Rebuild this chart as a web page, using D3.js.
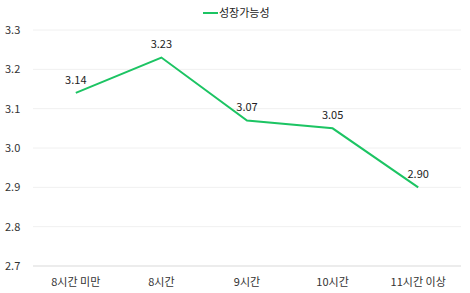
<!DOCTYPE html>
<html>
<head>
<meta charset="utf-8">
<style>
  body { margin: 0; background: #fff; }
  text { font-family: "Noto Sans CJK KR", "Noto Sans", sans-serif; }
</style>
</head>
<body>
<script src="https://d3js.org/d3.v7.min.js"></script>
<script>
var categories = ["8시간 미만", "8시간", "9시간", "10시간", "11시간 이상"];
var values = [3.14, 3.23, 3.07, 3.05, 2.90];
var yTicks = [2.7, 2.8, 2.9, 3.0, 3.1, 3.2, 3.3];
var seriesName = "성장가능성";

var W = 470, H = 293;
var margin = {top: 30, right: 9, bottom: 27, left: 33};
var width = W - margin.left - margin.right,
    height = H - margin.top - margin.bottom;
var color = "#1cc463";

var svg = d3.select("body").append("svg")
    .attr("width", W).attr("height", H);

var chart = svg.append("g")
    .attr("transform", "translate(" + margin.left + "," + margin.top + ")");

var x = d3.scaleBand().domain(categories).range([0, width]);
var y = d3.scaleLinear().domain([2.7, 3.3]).range([height, 0]);

// grid lines
chart.selectAll(".grid")
    .data(yTicks)
    .enter().append("line")
    .attr("x1", 0).attr("x2", width)
    .attr("y1", function(d){ return y(d); })
    .attr("y2", function(d){ return y(d); })
    .attr("stroke", function(d){ return d === 2.7 ? "#d9d9d9" : "#f0f0f0"; })
    .attr("stroke-width", 1);

// y axis labels
chart.selectAll(".ylab")
    .data(yTicks)
    .enter().append("text")
    .attr("x", -28)
    .attr("y", function(d){ return y(d); })
    .attr("dy", "0.35em")
    .attr("font-size", 11)
    .attr("fill", "#333")
    .text(function(d){ return d3.format(".1f")(d); });

// x axis labels
chart.selectAll(".xlab")
    .data(categories)
    .enter().append("text")
    .attr("x", function(d){ return x(d) + x.bandwidth() / 2; })
    .attr("y", height + 16)
    .attr("dy", "0.35em")
    .attr("text-anchor", "middle")
    .attr("font-size", 11)
    .attr("fill", "#333")
    .text(function(d){ return d; });

var pts = categories.map(function(c, i){ return {c: c, v: values[i]}; });

var line = d3.line()
    .x(function(d){ return x(d.c) + x.bandwidth() / 2; })
    .y(function(d){ return y(d.v); });

chart.append("path")
    .datum(pts)
    .attr("d", line)
    .attr("fill", "none")
    .attr("stroke", color)
    .attr("stroke-width", 2);

// value labels
chart.selectAll(".vlab")
    .data(pts)
    .enter().append("text")
    .attr("x", function(d){ return x(d.c) + x.bandwidth() / 2; })
    .attr("y", function(d){ return y(d.v) - 13; })
    .attr("dy", "0.35em")
    .attr("text-anchor", "middle")
    .attr("font-size", 11)
    .attr("fill", "#222")
    .text(function(d){ return d3.format(".2f")(d.v); });

// legend
var legend = svg.append("g").attr("transform", "translate(203,13)");
legend.append("line")
    .attr("x1", 0).attr("x2", 15)
    .attr("y1", 0).attr("y2", 0)
    .attr("stroke", color).attr("stroke-width", 2);
legend.append("text")
    .attr("x", 16).attr("y", 0).attr("dy", "0.35em")
    .attr("font-size", 11)
    .attr("fill", "#222")
    .text(seriesName);
</script>
</body>
</html>
